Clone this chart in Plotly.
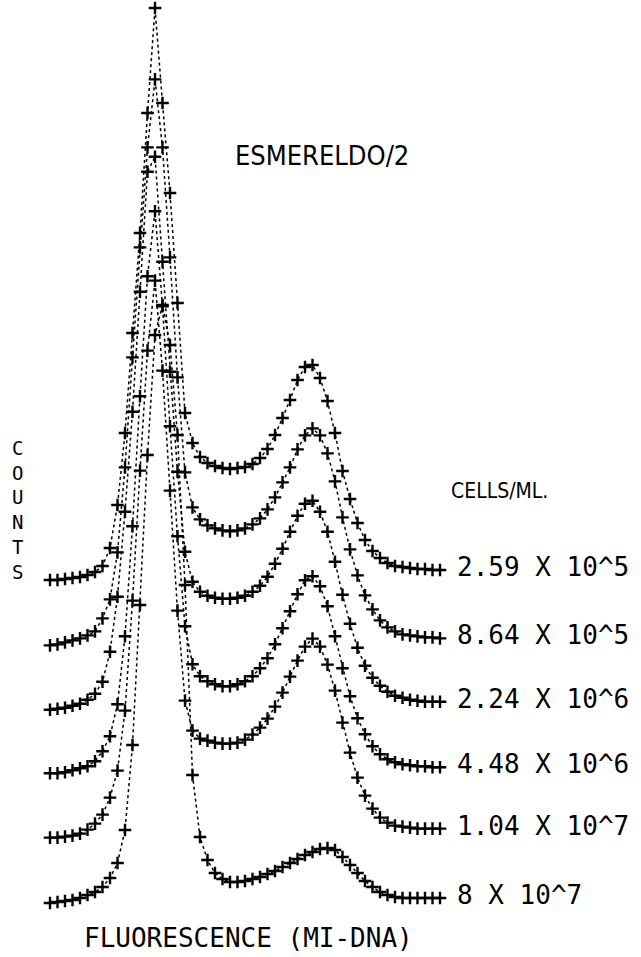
import plotly.graph_objects as go

# Flow-cytometry DNA histograms (ESMERELDO/2), one per culture density,
# drawn as a waterfall: each curve is lifted by a fixed step above the next.
channels = list(range(53))

densities = ["2.59 X 10^5", "8.64 X 10^5", "2.24 X 10^6",
             "4.48 X 10^6", "1.04 X 10^7", "8 X 10^7"]

counts_259e5 = [3, 3, 4, 5, 6, 8, 11, 17, 35, 78, 150, 250, 350, 470, 575,
                480, 390, 280, 170, 140, 126, 120, 117, 115, 114, 115, 116,
                119, 125, 134, 148, 165, 183, 203, 216, 218, 205, 182, 150,
                112, 84, 60, 43, 32, 25, 20, 17, 16, 15, 14, 14, 13, 13]
counts_864e5 = [2, 3, 5, 7, 9, 12, 16, 29, 48, 95, 180, 290, 400, 500, 568,
                500, 390, 270, 175, 140, 128, 122, 119, 117, 116, 117, 119,
                123, 129, 138, 150, 165, 180, 198, 212, 219, 212, 194, 166,
                130, 98, 72, 52, 38, 27, 20, 16, 13, 12, 11, 10, 10, 9]
counts_224e6 = [2, 3, 4, 6, 8, 12, 18, 30, 60, 115, 200, 300, 420, 540, 555,
                450, 340, 240, 160, 130, 120, 116, 114, 113, 113, 114, 116,
                120, 126, 135, 148, 163, 180, 196, 208, 211, 200, 180, 150,
                117, 88, 64, 46, 34, 26, 20, 16, 14, 12, 11, 10, 10, 10]
counts_448e6 = [3, 3, 4, 6, 8, 10, 15, 25, 40, 72, 140, 250, 380, 500, 565,
                470, 350, 240, 150, 112, 100, 95, 92, 90, 90, 92, 95, 100,
                108, 118, 132, 148, 165, 182, 196, 200, 190, 170, 140, 108,
                80, 58, 42, 30, 22, 17, 14, 12, 11, 10, 10, 9, 9]
counts_104e7 = [3, 3, 4, 5, 7, 11, 17, 26, 43, 70, 130, 240, 370, 490, 560,
                470, 350, 230, 140, 110, 102, 100, 98, 97, 97, 98, 101, 106,
                113, 122, 134, 148, 164, 180, 194, 202, 194, 176, 150, 118,
                88, 63, 45, 32, 23, 18, 15, 14, 13, 12, 12, 12, 12]
counts_8e7 = [2, 3, 4, 5, 7, 10, 13, 18, 27, 42, 75, 160, 300, 450, 570,
              600, 560, 470, 320, 130, 68, 45, 32, 26, 23, 23, 24, 26, 28,
              31, 34, 38, 42, 46, 50, 53, 56, 57, 55, 48, 40, 32, 24, 18,
              13, 10, 8, 7, 7, 7, 7, 7, 7]

series = [counts_259e5, counts_864e5, counts_224e6,
          counts_448e6, counts_104e7, counts_8e7]

STEP = 64.4          # vertical lift between neighbouring curves
W, H = 641, 957
X0_PX, DX_PX = 50, 7.5   # pixel position of channel 0 and channel width
Y0_PX = 905              # pixel row of the zero line of the lowest curve

mono = "DejaVu Sans Mono"
narrow = "DejaVu Sans Condensed, Liberation Sans Narrow, DejaVu Sans"

fig = go.Figure()
n = len(series)
for i, (label, counts) in enumerate(zip(densities, series)):
    lift = STEP * (n - 1 - i)
    yy = [c + lift for c in counts]
    fig.add_trace(go.Scatter(
        x=channels, y=yy, mode="lines+markers", name=label,
        line=dict(color="black", width=1.5, dash="dot"),
        marker=dict(symbol="cross-thin", size=9,
                    line=dict(color="black", width=2.4)),
        showlegend=False, hoverinfo="skip",
    ))
    # density label at the right end of the curve
    fig.add_annotation(
        x=channels[-1], y=yy[-1], xref="x", yref="y",
        text=label, showarrow=False, xanchor="left", yanchor="middle",
        xshift=15, yshift=3,
        font=dict(family=mono, size=26, color="black"),
    )


def px_note(text, x, y, size, anchor="left", family=mono):
    fig.add_annotation(
        x=x / W, y=1 - y / H, xref="paper", yref="paper", text=text,
        showarrow=False, xanchor=anchor, yanchor="middle",
        font=dict(family=family, size=size, color="black"),
    )


px_note("ESMERELDO/2", 233, 156, 27, family=narrow)
px_note("CELLS/ML.", 449, 491, 21, family=narrow)
px_note("FLUORESCENCE (MI-DNA)", 82, 938, 26)
px_note("<br>".join("COUNTS"), 17, 510, 19, anchor="center")

fig.update_layout(
    width=W, height=H,
    margin=dict(l=0, r=0, t=0, b=0),
    paper_bgcolor="white", plot_bgcolor="white",
    xaxis=dict(range=[-X0_PX / DX_PX, (W - X0_PX) / DX_PX],
               visible=False, fixedrange=True),
    yaxis=dict(range=[Y0_PX - H, Y0_PX], visible=False, fixedrange=True),
)

fig.write_html("out.html")
